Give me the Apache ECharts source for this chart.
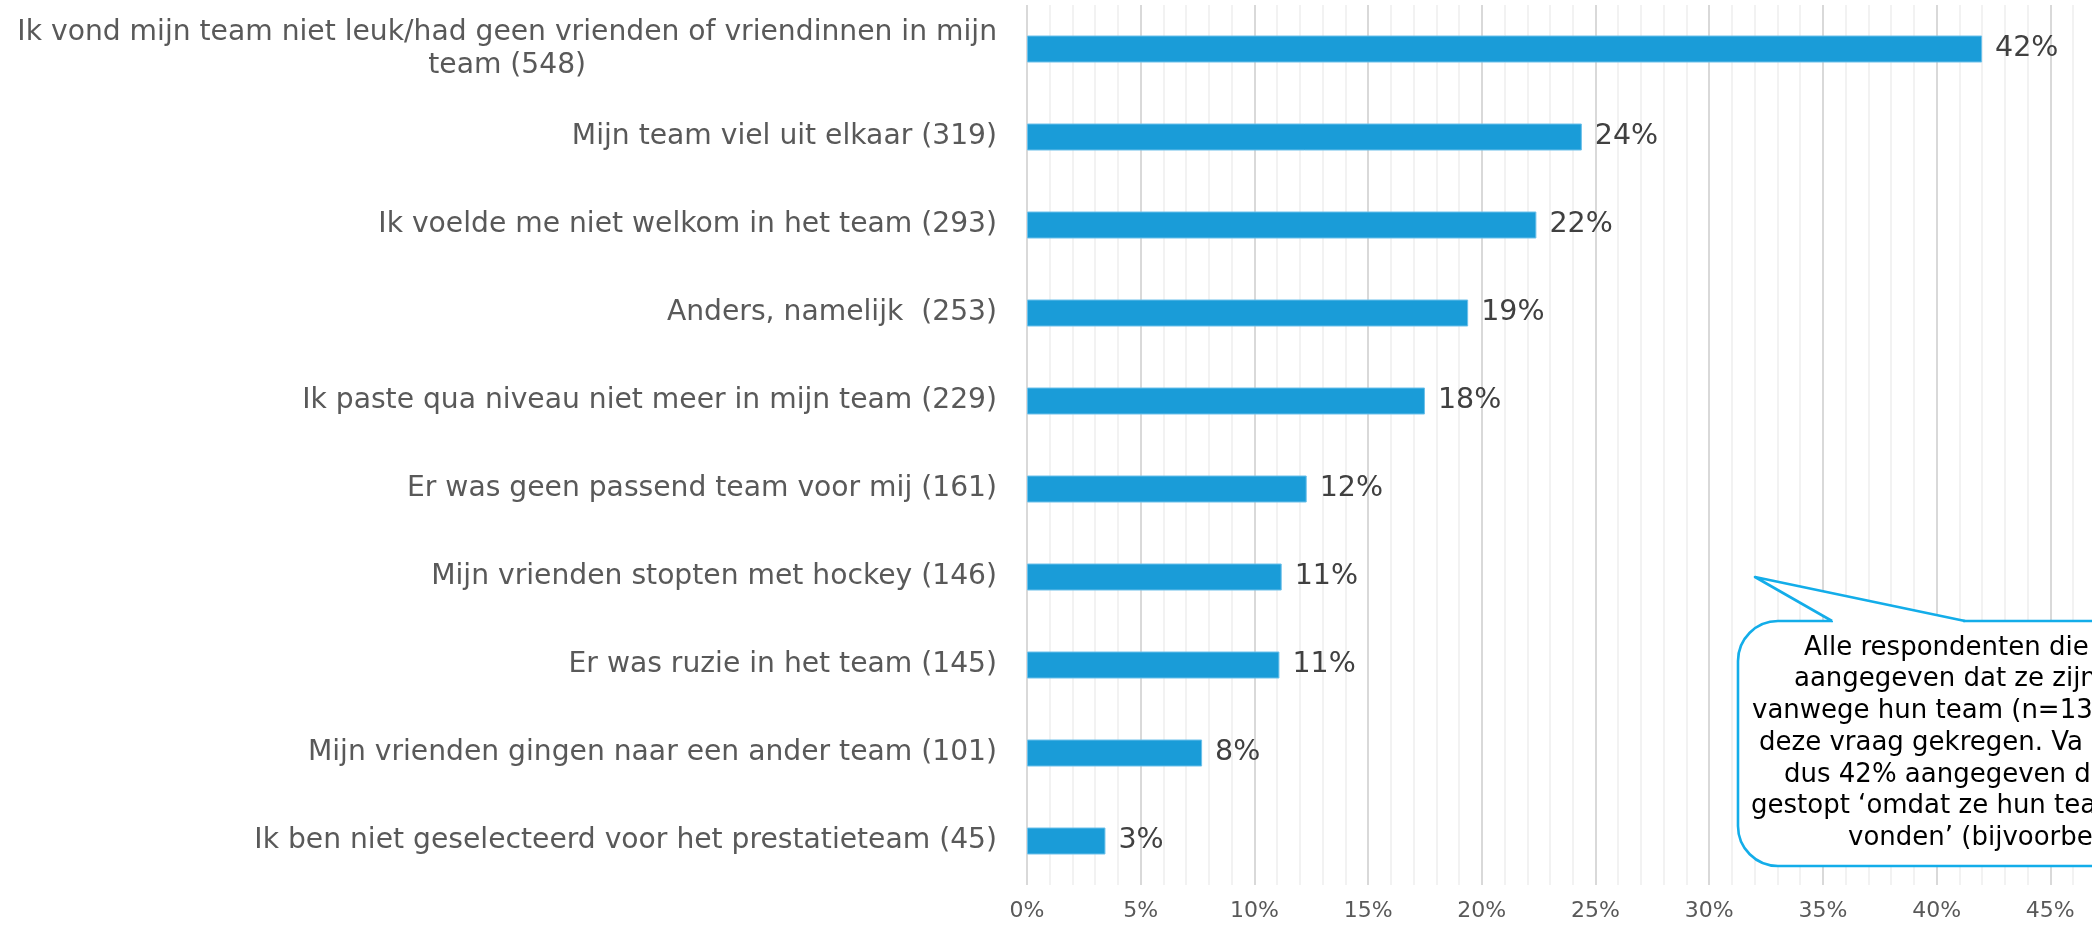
<!DOCTYPE html>
<html>
<head>
<meta charset="utf-8">
<script src="https://cdn.jsdelivr.net/npm/echarts@6/dist/echarts.min.js"></script>
<style>
html,body{margin:0;padding:0;background:#fff;}
#chart{width:2092px;height:925px;}
</style>
</head>
<body>
<div id="chart"></div>
<script>
// ---- data ----
const categories = [
  "Ik vond mijn team niet leuk/had geen vrienden of vriendinnen in mijn\nteam (548)",
  "Mijn team viel uit elkaar (319)",
  "Ik voelde me niet welkom in het team (293)",
  "Anders, namelijk  (253)",
  "Ik paste qua niveau niet meer in mijn team (229)",
  "Er was geen passend team voor mij (161)",
  "Mijn vrienden stopten met hockey (146)",
  "Er was ruzie in het team (145)",
  "Mijn vrienden gingen naar een ander team (101)",
  "Ik ben niet geselecteerd voor het prestatieteam (45)"
];
const values = [42.0, 24.4, 22.4, 19.4, 17.5, 12.3, 11.2, 11.1, 7.7, 3.45];
const axisMin = 0;
const axisMax = 50;
const axisStep = 5;
const calloutLines = [
  "Alle respondenten die",
  "aangegeven dat ze zijn",
  "vanwege hun team (n=13",
  "deze vraag gekregen. Va",
  "dus 42% aangegeven d",
  "gestopt \u2018omdat ze hun tea",
  "vonden\u2019 (bijvoorbe"
];
const calloutStarts = [1804, 1794, 1752, 1759, 1784, 1751, 1848];

// ---- chart ----
const FONT = "'DejaVu Sans', Verdana, sans-serif";
const chart = echarts.init(document.getElementById('chart'), null, {renderer: 'canvas'});

const BLUE_LINE = '#13ade9';
const graphics = [
  {
    type: 'rect', z: 100,
    shape: {x: 1738, y: 621, width: 520, height: 245, r: 40},
    style: {fill: '#ffffff', stroke: BLUE_LINE, lineWidth: 2.6}
  },
  {
    type: 'polygon', z: 101,
    shape: {points: [[1833, 621], [1755, 577], [1963, 621], [1963, 624], [1833, 624]]},
    style: {fill: '#ffffff', stroke: null}
  },
  {
    type: 'polyline', z: 102,
    shape: {points: [[1832, 621], [1755, 577], [1965, 621]]},
    style: {stroke: BLUE_LINE, lineWidth: 2.6, fill: null, lineJoin: 'round'}
  }
];
calloutLines.forEach((t, i) => {
  graphics.push({
    type: 'text', z: 103,
    x: calloutStarts[i], y: 648 + i * 31.7,
    style: {text: t, fill: '#000000', font: '26px ' + FONT, align: 'left', verticalAlign: 'middle'}
  });
});

const option = {
  backgroundColor: '#ffffff',
  animation: false,
  grid: {left: 1027, top: 5, width: 1137, height: 880, containLabel: false, outerBoundsMode: 'none'},
  xAxis: {
    type: 'value',
    min: axisMin, max: axisMax, interval: axisStep,
    axisLine: {show: false},
    axisTick: {show: false},
    axisLabel: {formatter: '{value}%', fontSize: 22, color: '#595959', fontFamily: FONT, margin: 15},
    splitLine: {show: true, lineStyle: {color: '#d9d9d9', width: 2}},
    minorTick: {show: false, splitNumber: 5},
    minorSplitLine: {show: true, lineStyle: {color: '#eeeeee', width: 1.5}}
  },
  yAxis: {
    type: 'category',
    data: categories,
    inverse: true,
    axisLine: {show: false},
    axisTick: {show: false},
    splitLine: {show: false},
    axisLabel: {
      interval: 0,
      margin: 30,
      fontSize: 28.2,
      color: '#595959',
      fontFamily: FONT,
      lineHeight: 33,
      formatter: function (v) {
        if (v.indexOf('\n') >= 0) {
          return v.split('\n').map(s => '{c|' + s + '}').join('\n');
        }
        return v;
      },
      rich: {
        c: {align: 'center', fontSize: 28.2, color: '#595959', fontFamily: FONT, lineHeight: 33}
      }
    }
  },
  series: [{
    type: 'bar',
    data: values,
    barWidth: 27,
    itemStyle: {color: '#1a9cd8', borderColor: '#6cc0ea', borderWidth: 1},
    label: {
      show: true,
      position: 'right',
      distance: 13,
      fontSize: 28.5,
      color: '#404040',
      fontFamily: FONT,
      formatter: p => Math.round(p.value) + '%'
    }
  }],
  graphic: graphics
};
chart.setOption(option);
</script>
</body>
</html>
